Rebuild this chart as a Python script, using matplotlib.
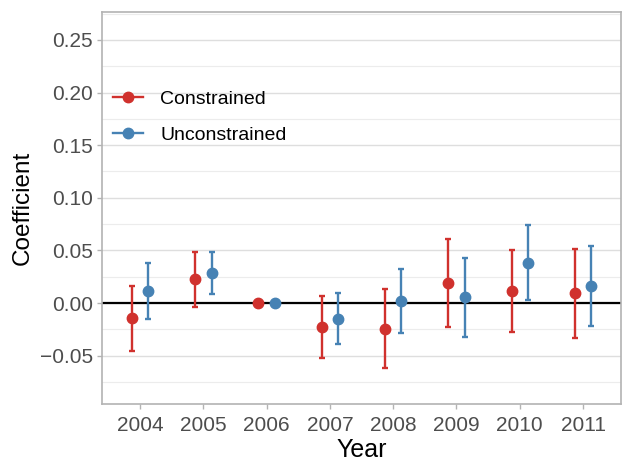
import numpy as np
import matplotlib.pyplot as plt
from matplotlib.lines import Line2D
from matplotlib.ticker import MultipleLocator

plt.rcParams['font.family'] = ['Liberation Sans', 'DejaVu Sans']

years = ['2004', '2005', '2006', '2007', '2008', '2009', '2010', '2011']

# Constrained
con_est = [-0.0146, 0.0228, 0.0, -0.0231, -0.0247, 0.0193, 0.0114, 0.0092]
con_lo = [-0.0456, -0.0035, 0.0, -0.0526, -0.0621, -0.0225, -0.0279, -0.0330]
con_hi = [0.0160, 0.0488, 0.0, 0.0067, 0.0130, 0.0611, 0.0507, 0.0516]

# Unconstrained
unc_est = [0.0117, 0.0288, 0.0, -0.0149, 0.0019, 0.0054, 0.0383, 0.0162]
unc_lo = [-0.0149, 0.0086, 0.0, -0.0390, -0.0285, -0.0320, 0.0032, -0.0219]
unc_hi = [0.0383, 0.0488, 0.0, 0.0092, 0.0320, 0.0425, 0.0739, 0.0545]

red = '#D0312D'
blue = '#4682B4'

fig = plt.figure(figsize=(6.34, 4.76), dpi=100)
ax = fig.add_axes([0.161, 0.151, 0.8185, 0.824])

x = np.arange(1, len(years) + 1)
dodge = 0.13

ax.axhline(0, color='black', lw=1.6, zorder=2)


def draw(xs, est, lo, hi, color):
    est = np.array(est)
    err = [est - np.array(lo), np.array(hi) - est]
    ax.errorbar(xs, est, yerr=err, fmt='o', color=color, ms=7.5, elinewidth=1.7,
                capsize=2.3, capthick=1.7, zorder=3)


draw(x - dodge, con_est, con_lo, con_hi, red)
draw(x + dodge, unc_est, unc_lo, unc_hi, blue)

ax.set_xlim(0.4, len(years) + 0.6)
ax.set_ylim(-0.096, 0.2766)
ax.set_xticks(x)
ax.set_xticklabels(years)
ax.yaxis.set_minor_locator(MultipleLocator(0.025))
ax.set_yticks([-0.05, 0, 0.05, 0.10, 0.15, 0.20, 0.25])
ax.set_yticklabels(['\u22120.05', '0.00', '0.05', '0.10', '0.15', '0.20', '0.25'])

ax.grid(axis='y', which='major', color='#dedede', lw=1.0, zorder=0)
ax.grid(axis='y', which='minor', color='#ececec', lw=0.8, zorder=0)
ax.set_axisbelow(True)

for s in ax.spines.values():
    s.set_color('#b3b3b3')
    s.set_linewidth(1.2)
ax.tick_params(axis='both', which='major', color='#b3b3b3', length=3.5, width=1,
               labelsize=15, labelcolor='#4d4d4d', pad=3)
ax.tick_params(axis='x', which='major', pad=5)
ax.tick_params(axis='y', which='minor', length=0)

ax.set_xlabel('Year', fontsize=18, labelpad=2)
ax.set_ylabel('Coefficient', fontsize=17.5, labelpad=4.5)

handles = [
    Line2D([], [], color=red, lw=1.7, marker='o', ms=7.5),
    Line2D([], [], color=blue, lw=1.7, marker='o', ms=7.5),
]
ax.legend(handles, ['Constrained', 'Unconstrained'], loc='center left',
          bbox_to_anchor=(0.0212, 0.7324), frameon=False, fontsize=14,
          handlelength=1.55, handletextpad=0.88, labelspacing=0.95,
          borderaxespad=0, borderpad=0)

fig.savefig('out.png', dpi=100)
